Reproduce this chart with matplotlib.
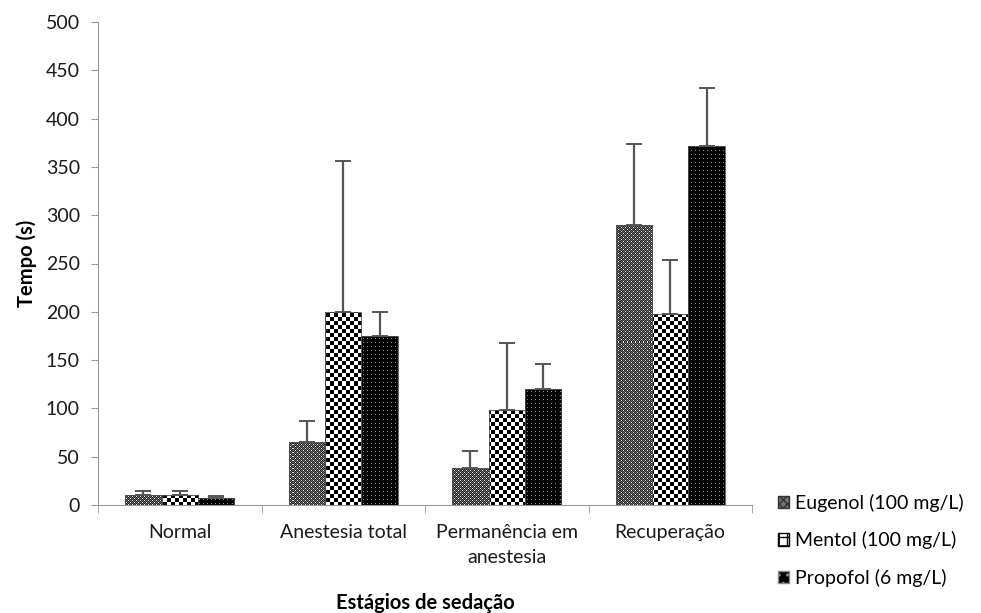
import numpy as np
import matplotlib.pyplot as plt
from matplotlib.patches import Patch

## dados
categorias = ['Normal', 'Anestesia total', 'Permanência em\nanestesia', 'Recuperação']
series = ['Eugenol (100 mg/L)', 'Mentol (100 mg/L)', 'Propofol (6 mg/L)']
eugenol = [10, 65, 38, 290]
eugenol_dp = [5, 22, 18, 84]
mentol = [10, 200, 98, 198]
mentol_dp = [4, 156, 70, 56]
propofol = [7, 175, 120, 372]
propofol_dp = [2, 25, 26, 60]

plt.rcParams['font.family'] = ['Lato', 'DejaVu Sans']

W, H = 981, 613
fig = plt.figure(figsize=(W / 100, H / 100), dpi=100)
x0, x1, y0, y1 = 98, 752, 22, 505
ax = fig.add_axes([x0 / W, 1 - y1 / H, (x1 - x0) / W, (y1 - y0) / H])

## texturas (pixel a pixel)
aw, ah = x1 - x0, y1 - y0
yy, xx = np.mgrid[0:ah, 0:aw]

def textura(kind):
    img = np.ones((ah, aw, 3))
    if kind == 'eugenol':
        img[:] = 0.42
        a = (xx % 4 == 0) & (yy % 4 == 0)
        b = (xx % 4 == 2) & (yy % 4 == 2)
        c = ((xx + yy) % 2 == 1)
        img[c] = 0.15
        img[a] = 1.0
        img[b] = 0.9
    elif kind == 'mentol':
        chk = ((xx // 4) + (yy // 4)) % 2 == 0
        img[chk] = 0.0
    else:
        img[:] = 0.0
        d = (xx % 4 == 1) & (yy % 4 == 1)
        img[d] = 0.55
    return img

n = len(categorias)
x = np.arange(n)
w = 0.223
dados = [(eugenol, eugenol_dp, 'eugenol'),
         (mentol, mentol_dp, 'mentol'),
         (propofol, propofol_dp, 'propofol')]

for i, (vals, dp, kind) in enumerate(dados):
    pos = x + (i - 1) * w
    bars = ax.bar(pos, vals, w, color='none', edgecolor='#505050', linewidth=0.6, zorder=2)
    img = textura(kind)
    for b in bars:
        im = ax.imshow(img, extent=(0, 1, 0, 1), transform=ax.transAxes,
                       interpolation='nearest', aspect='auto', zorder=1)
        im.set_clip_path(b)
    ax.errorbar(pos, vals, yerr=[np.zeros(n), dp], fmt='none', ecolor='#555555',
                elinewidth=1.6, capsize=6, capthick=1.4, zorder=3)

ax.set_xlim(-0.5, n - 0.5)
ax.set_ylim(0, 500)
ax.set_yticks(np.arange(0, 501, 50))
ax.set_xticks(x)
ax.set_xticklabels(categorias, fontsize=14, color='#1a1a1a', linespacing=1.55)
ax.set_xticks(np.arange(-0.5, n, 1), minor=True)
ax.tick_params(axis='x', which='major', length=0, pad=14)
ax.tick_params(axis='x', which='minor', length=6, color='#999999')
ax.tick_params(axis='y', length=5, color='#999999', labelsize=14, labelcolor='#1a1a1a', pad=8)
for s in ['top', 'right']:
    ax.spines[s].set_visible(False)
for s in ['left', 'bottom']:
    ax.spines[s].set_color('#999999')

ax.set_ylabel('Tempo (s)', fontsize=14.5, fontweight='bold', labelpad=6)
ax.set_xlabel('Estágios de sedação', fontsize=14.5, fontweight='bold', labelpad=19)

handles = [Patch(facecolor='#707070', edgecolor='#333333', hatch='xxxx'),
           Patch(facecolor='white', edgecolor='black', hatch='++'),
           Patch(facecolor='black', edgecolor='#888888', hatch='..')]
fig.legend(handles, series, loc='upper left', bbox_to_anchor=(768 / W, 1 - 484 / H),
           frameon=False, fontsize=14, handlelength=0.6, handleheight=0.6,
           handletextpad=0.3, labelspacing=1.0, borderpad=0)

plt.savefig('out.png', dpi=100)
